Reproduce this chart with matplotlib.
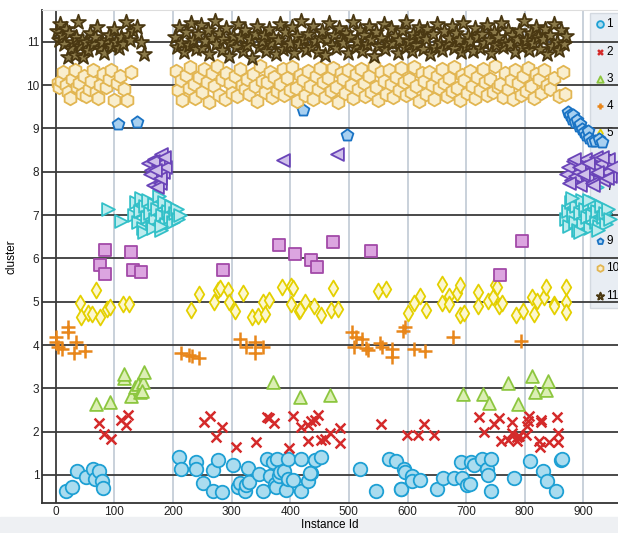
import matplotlib
matplotlib.use("Agg")
import matplotlib.pyplot as plt
from matplotlib.patches import Rectangle

plt.rcParams['font.family'] = ['Liberation Sans', 'DejaVu Sans']

# cluster 1 (circles)
c1_x = [17, 27, 36, 51, 63, 67, 73, 79, 80,
        210, 213, 240, 240, 251, 268, 268, 277, 284, 303,
        311, 315, 323, 325, 328, 330, 347, 353, 360, 366,
        370, 374, 375, 378, 381, 382, 389, 392, 396, 396,
        405, 419, 418, 430, 436, 442, 433, 452,
        519, 546, 569, 580, 588, 589, 594, 595, 607, 607,
        621, 650, 661, 679, 691, 693, 701, 707, 709, 713,
        727, 735, 737, 742, 742, 782, 809, 831, 838, 853,
        862, 863]
c1_y = [0.63, 0.72, 1.10, 0.95, 1.13, 0.90, 1.10, 0.85, 0.69,
        1.41, 1.13, 1.29, 1.13, 0.82, 0.64, 1.11, 1.35, 0.61, 1.23,
        0.72, 0.82, 0.64, 0.77, 1.15, 0.84, 1.02, 0.64, 1.36, 0.98,
        1.31, 0.79, 0.72, 1.36, 0.98, 1.07, 1.10, 0.65, 1.36, 0.90,
        0.88, 1.36, 0.62, 0.85, 1.04, 1.35, 1.04, 1.41,
        1.14, 0.63, 1.37, 1.33, 0.67, 0.67, 1.14, 1.07, 0.98, 0.85,
        0.88, 0.68, 0.94, 0.92, 1.31, 0.92, 0.77, 0.80, 1.31, 1.22,
        1.38, 1.14, 1.01, 1.38, 0.62, 0.94, 1.32, 1.09, 0.85, 0.62,
        1.35, 1.36]

# cluster 2 (crosses)
c2_x = [74, 82, 95, 112, 119, 123, 253, 263, 273, 283,
        307, 341, 360, 364, 372, 398, 404, 419, 431, 436,
        430, 442, 448, 453, 459, 468, 485, 485, 555, 599,
        618, 628, 645, 722, 731, 748, 756, 759, 772, 778,
        779, 787, 790, 786, 802, 803, 806, 808, 825, 826,
        828, 828, 842, 855, 857, 856]
c2_y = [2.19, 1.95, 1.83, 2.28, 2.15, 2.38, 2.22, 2.36, 1.88, 2.11,
        1.64, 1.77, 2.33, 2.32, 2.21, 1.62, 2.36, 2.11, 2.15, 2.24,
        1.79, 2.28, 2.38, 1.81, 1.82, 1.96, 2.09, 1.73, 2.17, 1.92,
        1.92, 2.18, 1.92, 2.35, 2.00, 2.18, 2.31, 1.79, 1.81, 1.98,
        2.22, 1.88, 1.90, 1.79, 1.92, 2.13, 2.24, 2.37, 1.78, 1.65,
        2.28, 2.22, 1.75, 2.35, 1.98, 1.75]

# cluster 3 (triangles up)
c3_x = [68, 92, 116, 117, 129, 135, 140, 143, 148, 150, 147, 370,
        416, 468, 695, 729, 739, 771, 788, 813, 818, 836, 840]
c3_y = [2.65, 2.69, 3.25, 3.32, 2.82, 3.04, 3.10, 2.92, 3.15, 3.38, 2.95, 3.15,
        2.81, 2.85, 2.88, 2.88, 2.67, 3.13, 2.65, 3.28, 2.91, 2.96, 3.17]

# cluster 4 (plus)
c4_x = [1, 0, 4, 10, 20, 21, 34, 31, 49, 214, 228, 232, 245, 314, 325, 340, 340,
        353, 505, 509, 512, 523, 529, 533, 553, 557, 573, 573, 592, 596, 611, 630,
        677, 793]
c4_y = [4.18, 4.06, 3.95, 3.90, 4.42, 4.31, 4.08, 3.82, 3.87, 3.81, 3.78, 3.75,
        3.70, 4.14, 3.96, 4.08, 3.81, 3.95, 4.31, 3.95, 4.19, 4.15, 3.94, 3.88,
        4.04, 3.95, 3.90, 3.73, 4.33, 4.42, 3.90, 3.87, 4.19, 4.10]

# cluster 5 (diamonds)
c5_x = [41, 43, 55, 61, 69, 75, 87, 92, 115, 125,
        230, 245, 270, 277, 280, 294, 295, 306, 320, 334,
        345, 354, 357, 363, 385, 401, 405, 401, 415, 425,
        441, 416, 453, 470, 473, 482, 550, 564, 601, 611,
        622, 631, 659, 659, 670, 671, 684, 689, 690, 696,
        720, 720, 738, 745, 749, 753, 756, 761, 785, 797,
        812, 815, 820, 833, 837, 849, 850, 870, 870, 871]
c5_y = [4.96, 4.64, 4.73, 4.71, 5.28, 4.64, 4.82, 4.87, 4.94, 4.94,
        4.81, 5.18, 5.00, 5.27, 5.32, 5.27, 5.00, 4.78, 5.19, 4.64,
        4.67, 5.00, 4.72, 5.04, 5.34, 5.36, 5.31, 4.94, 4.79, 5.00,
        4.90, 4.81, 4.69, 4.81, 5.31, 4.83, 5.24, 5.29, 4.75, 4.97,
        5.13, 4.81, 5.41, 4.97, 5.13, 4.94, 5.19, 5.38, 4.69, 4.75,
        5.23, 4.89, 5.02, 5.11, 5.38, 5.35, 4.91, 4.97, 4.69, 4.79,
        5.11, 4.71, 5.02, 5.11, 5.34, 4.94, 4.91, 5.33, 5.00, 4.76]

# cluster 6 (squares)
c6_x = [84, 75, 84, 129, 132, 146, 286, 381, 408, 435, 445, 472, 537, 795, 758]
c6_y = [6.19, 5.84, 5.65, 6.15, 5.73, 5.69, 5.73, 6.31, 6.11, 5.96, 5.81, 6.38,
        6.17, 6.41, 5.61]

# cluster 7 (triangles right)
c7_x = [89, 112,
        133, 137, 140, 143, 146, 149, 152, 155, 158, 161,
        164, 167, 170, 173, 176, 179, 182, 185, 188, 191,
        194, 197, 200, 203, 206, 209, 212, 150, 165, 180,
        870, 873, 876, 879, 882, 885, 888, 891, 894, 897,
        900, 903, 906, 909, 912, 915, 918, 921, 924, 927,
        930, 933, 936, 939, 942, 945, 880, 895, 910, 925]
c7_y = [7.15, 6.87,
        7.00, 7.30, 6.85, 7.10, 7.40, 6.70, 7.20, 6.95, 7.35, 7.05,
        6.75, 7.25, 6.90, 7.15, 7.45, 6.65, 7.00, 7.30, 6.80, 7.10,
        6.95, 7.20, 6.85, 7.05, 7.15, 6.90, 7.00, 6.60, 6.70, 6.75,
        6.90, 7.10, 6.75, 7.30, 7.00, 6.85, 7.20, 6.65, 7.05, 7.35,
        6.80, 7.15, 6.95, 7.25, 6.70, 7.00, 7.30, 6.85, 7.10, 6.75,
        7.20, 6.95, 7.05, 6.80, 7.15, 6.90, 7.40, 6.60, 7.35, 6.65]

# cluster 8 (triangles left)
c8_x = [158, 162, 165, 168, 171, 174, 177, 180, 183, 186, 160, 166, 172, 178,
        184, 170, 388, 480,
        870, 874, 878, 882, 886, 890, 894, 898, 902, 906,
        910, 914, 918, 922, 926, 930, 934, 938, 942, 946,
        876, 884, 892, 900, 908, 916, 924, 932, 940, 948]
c8_y = [8.20, 8.05, 7.70, 8.30, 7.90, 8.15, 7.75, 8.40, 8.00, 8.10, 7.95, 8.25,
        7.65, 7.85, 8.35, 8.05, 8.27, 8.40,
        7.95, 8.10, 7.80, 8.25, 7.90, 8.00, 7.70, 8.20, 8.30, 7.85,
        8.05, 7.75, 8.15, 8.35, 7.95, 8.20, 7.80, 8.00, 8.30, 7.90,
        7.75, 8.30, 8.10, 7.95, 8.20, 7.70, 8.00, 8.35, 7.85, 8.10]

# cluster 9 (pentagons)
c9_x = [106, 138, 421, 496, 874, 877, 880, 883, 886, 889, 892, 895, 898, 901,
        904, 907, 910, 914, 920, 926, 931]
c9_y = [9.10, 9.14, 9.42, 8.84, 9.38, 9.30, 9.22, 9.32, 9.15, 9.20, 9.05, 9.10,
        8.98, 8.92, 8.85, 8.95, 8.78, 8.72, 8.70, 8.75, 8.68]

# cluster 10 (hexagons)
c10_x = [3, 6, 9, 13, 17, 20, 24, 28, 32, 36,
         40, 44, 48, 52, 56, 60, 64, 68, 72, 76,
         80, 85, 90, 95, 100, 105, 110, 116, 122, 128,
         205, 209, 214, 216, 222, 227, 229, 235, 238, 244,
         249, 252, 258, 261, 266, 270, 275, 279, 283, 289,
         291, 297, 300, 305, 309, 314, 318, 322, 327, 330,
         336, 339, 344, 349, 351, 357, 360, 366, 369, 373,
         378, 382, 387, 390, 395, 400, 403, 409, 412, 417,
         421, 425, 430, 434, 438, 444, 447, 451, 456, 459,
         464, 469, 472, 478, 481, 486, 490, 494, 499, 503,
         507, 512, 516, 520, 525, 528, 534, 537, 542, 546,
         550, 555, 559, 563, 568, 572, 576, 580, 585, 589,
         594, 597, 603, 606, 611, 615, 619, 624, 628, 632,
         637, 641, 645, 650, 654, 658, 663, 667, 671, 676,
         680, 684, 689, 693, 697, 702, 706, 710, 715, 719,
         723, 728, 732, 736, 741, 745, 749, 754, 758, 762,
         767, 771, 776, 780, 784, 789, 793, 797, 802, 806,
         811, 815, 819, 824, 828, 833, 838, 843, 850, 858,
         866, 869]
c10_y = [10.05, 9.95, 10.10, 10.30, 10.00, 9.85, 9.70, 10.15, 10.35, 9.95,
         10.05, 9.80, 10.20, 9.75, 9.90, 10.10, 10.35, 9.85, 9.70, 10.00,
         10.25, 9.95, 10.15, 10.35, 9.65, 10.05, 10.20, 9.90, 9.65, 10.30,
         10.32, 9.88, 10.12, 9.66, 10.24, 9.93, 10.41, 10.02, 9.71, 10.18,
         9.84, 10.37, 10.08, 9.62, 10.27, 9.97, 10.44, 9.77, 10.15, 9.69,
         10.28, 10.04, 9.81, 10.21, 9.74, 10.38, 10.01, 9.92, 10.13, 9.79,
         10.26, 9.98, 9.63, 10.43, 10.09, 9.83, 10.06, 10.31, 9.72, 10.19,
         9.87, 10.03, 10.36, 9.78, 10.16, 9.89, 10.42, 9.94, 9.64, 10.23,
         10.11, 9.76, 10.33, 9.99, 9.68, 10.22, 9.91, 10.39, 10.07, 9.73,
         10.17, 9.86, 10.40, 9.96, 9.61, 10.29, 10.14, 9.82, 10.34, 10.00,
         9.70, 10.25, 9.90, 10.37, 10.05, 9.75, 10.20, 9.85, 10.43, 9.95,
         9.66, 10.30, 10.10, 9.80, 10.35, 10.03, 9.72, 10.18, 9.88, 10.39,
         10.06, 9.77, 10.14, 9.84, 10.42, 9.97, 9.63, 10.27, 10.09, 9.79,
         10.31, 10.01, 9.69, 10.22, 9.93, 10.36, 10.04, 9.74, 10.16, 9.87,
         10.41, 9.94, 9.65, 10.24, 10.12, 9.81, 10.33, 9.99, 9.71, 10.19,
         9.89, 10.37, 10.07, 9.76, 10.15, 9.83, 10.44, 9.96, 10.02, 9.73,
         10.28, 9.91, 10.11, 9.67, 10.35, 10.05, 9.78, 10.21, 9.86, 10.40,
         9.98, 9.70, 10.26, 10.13, 9.82, 10.34, 10.00, 9.92, 10.17, 9.75,
         10.30, 9.79]

# cluster 11 (stars)
c11_x = [2, 5, 8, 11, 14, 17, 20, 23, 26, 29,
         32, 35, 38, 41, 44, 47, 51, 55, 59, 63,
         67, 71, 75, 79, 83, 87, 91, 95, 99, 103,
         107, 111, 115, 119, 123, 127, 132, 138, 145, 151,
         203, 206, 211, 214, 219, 222, 227, 231, 234, 239,
         243, 247, 250, 255, 259, 262, 267, 271, 274, 279,
         283, 286, 291, 295, 298, 303, 307, 310, 315, 319,
         322, 327, 331, 334, 339, 343, 346, 351, 355, 358,
         363, 367, 370, 375, 379, 382, 387, 391, 394, 399,
         403, 406, 411, 415, 418, 423, 427, 430, 435, 439,
         442, 447, 451, 454, 459, 463, 466, 471, 475, 478,
         483, 487, 490, 495, 499, 502, 507, 511, 514, 519,
         523, 526, 531, 535, 538, 543, 547, 550, 555, 559,
         562, 567, 571, 574, 579, 583, 586, 591, 595, 598,
         603, 607, 610, 615, 619, 622, 627, 631, 634, 639,
         643, 646, 651, 655, 658, 663, 667, 670, 675, 679,
         682, 687, 691, 694, 699, 703, 706, 711, 715, 718,
         723, 727, 730, 735, 739, 742, 747, 751, 754, 759,
         763, 766, 771, 775, 778, 783, 787, 790, 795, 799,
         802, 807, 811, 814, 819, 823, 826, 831, 835, 838,
         843, 847, 850, 855, 859, 862, 867, 870]
c11_y = [11.25, 11.05, 11.40, 11.15, 10.95, 11.30, 10.65, 11.20, 10.85, 11.00,
         10.70, 11.10, 11.45, 10.90, 11.05, 10.65, 11.00, 10.80, 11.20, 10.95,
         11.10, 11.35, 10.85, 11.00, 10.75, 11.05, 11.15, 10.90, 11.30, 11.00,
         10.85, 11.10, 10.95, 11.45, 11.15, 11.05, 11.25, 11.35, 11.00, 10.72,
         11.12, 10.88, 11.34, 10.97, 10.76, 11.23, 10.92, 11.44, 11.03, 10.83,
         11.17, 11.38, 10.86, 11.01, 11.27, 10.72, 11.09, 11.48, 10.94, 11.21,
         10.81, 11.06, 11.31, 10.68, 10.99, 11.14, 10.89, 11.42, 11.11, 10.78,
         11.26, 10.93, 11.07, 10.63, 11.19, 11.36, 10.87, 11.02, 11.16, 10.79,
         11.29, 10.96, 11.12, 10.71, 11.04, 11.41, 10.84, 11.22, 10.91, 10.98,
         11.33, 10.74, 11.13, 10.95, 11.47, 11.06, 10.82, 11.18, 10.88, 11.37,
         11.01, 10.77, 11.08, 11.24, 10.69, 11.03, 11.43, 10.92, 11.15, 10.86,
         11.32, 11.05, 10.97, 11.21, 10.73, 11.11, 11.46, 10.89, 11.02, 11.27,
         10.79, 11.16, 10.94, 11.36, 11.07, 10.67, 11.22, 10.91, 11.09, 11.41,
         10.84, 10.99, 11.31, 10.96, 11.14, 10.74, 11.04, 11.26, 10.88, 11.45,
         11.02, 10.78, 11.19, 10.93, 11.34, 11.12, 10.83, 11.06, 11.29, 10.71,
         11.17, 10.87, 11.42, 10.98, 10.81, 11.24, 10.95, 11.08, 11.37, 10.86,
         11.21, 11.03, 10.76, 11.44, 10.90, 11.13, 11.01, 10.79, 11.32, 11.11,
         10.85, 11.18, 10.97, 11.39, 11.05, 10.73, 11.23, 10.92, 11.10, 11.43,
         10.88, 11.00, 11.28, 10.94, 11.15, 10.77, 11.07, 11.25, 10.89, 11.47,
         11.03, 10.80, 11.20, 10.96, 11.35, 11.12, 10.84, 11.06, 11.30, 10.72,
         11.16, 10.91, 11.40, 11.00, 10.82, 11.26, 10.95, 11.13]

labels = ['1', '2', '3', '4', '5', '6', '7', '8', '9', '10', '11']
xs = [c1_x, c2_x, c3_x, c4_x, c5_x, c6_x, c7_x, c8_x, c9_x, c10_x, c11_x]
ys = [c1_y, c2_y, c3_y, c4_y, c5_y, c6_y, c7_y, c8_y, c9_y, c10_y, c11_y]

markers = ['o', 'x', '^', '+', 'd', 's', '>', '<', 'p', 'h', '*']
faces = ['#aadcef', '#d42a2a', '#dcefb4', '#e8861a', '#fcf7cf', '#dca5e0',
         '#bdecee', '#cfc0ea', '#a8d0f0', '#f9eece', '#8b7a4a']
edges = ['#1ea0d4', '#d42a2a', '#8cc63f', '#e8861a', '#e4d000', '#a24aa8',
         '#33c0c8', '#6a44b8', '#1a73c4', '#e2b652', '#4a3812']
sizes = [95, 50, 85, 90, 65, 85, 85, 85, 80, 95, 125]

fig = plt.figure(figsize=(6.18, 5.33), dpi=100)
fig.patches.append(Rectangle((0, 0), 1, 0.03, transform=fig.transFigure,
                             color='#eef0f3', zorder=-1))
ax = fig.add_axes([0.068, 0.056, 0.932, 0.925])

for i in range(11):
    if markers[i] in ('x', '+'):
        ax.scatter(xs[i], ys[i], marker=markers[i], s=sizes[i], c=edges[i],
                   linewidths=1.8, label=labels[i], zorder=3)
    else:
        ax.scatter(xs[i], ys[i], marker=markers[i], s=sizes[i], facecolors=faces[i],
                   edgecolors=edges[i], linewidths=1.3, label=labels[i], zorder=3)

ax.set_xlim(-23.5, 959)
ax.set_ylim(0.35, 11.73)
ax.set_xticks([0, 100, 200, 300, 400, 500, 600, 700, 800, 900])
ax.set_yticks([1, 2, 3, 4, 5, 6, 7, 8, 9, 10, 11])
for v in [100, 200, 300, 400, 500, 600, 700, 800, 900]:
    ax.axvline(v, color='#c9d1da', lw=1.4, zorder=1)
ax.axvline(0, color='#3a3a3a', lw=1.3, zorder=1)
for v in range(1, 12):
    ax.axhline(v, color='#3c3c3c', lw=1.3, zorder=1.5)

ax.tick_params(length=0, labelsize=8.5, colors='#222222', pad=2)
ax.spines['right'].set_visible(False)
ax.spines['top'].set_color('#dddddd')
ax.spines['left'].set_color('#333333')
ax.spines['left'].set_linewidth(1.3)
ax.spines['bottom'].set_color('#333333')
ax.spines['bottom'].set_linewidth(1.3)

ax.set_xlabel('Instance Id', fontsize=8.5, labelpad=1)
ax.set_ylabel('cluster', fontsize=8.5, labelpad=6)

leg = ax.legend(loc='upper left', bbox_to_anchor=(0.952, 0.995), fontsize=8.5,
                labelspacing=1.28, handlelength=0.7, handletextpad=0.15,
                borderpad=0.5, markerscale=0.5, frameon=True, fancybox=False,
                borderaxespad=0)
leg.get_frame().set_facecolor('#e6ebf2')
leg.get_frame().set_edgecolor('#d0d6de')
leg.get_frame().set_alpha(0.9)
leg.set_zorder(0.5)

fig.savefig('out.png', dpi=100)
